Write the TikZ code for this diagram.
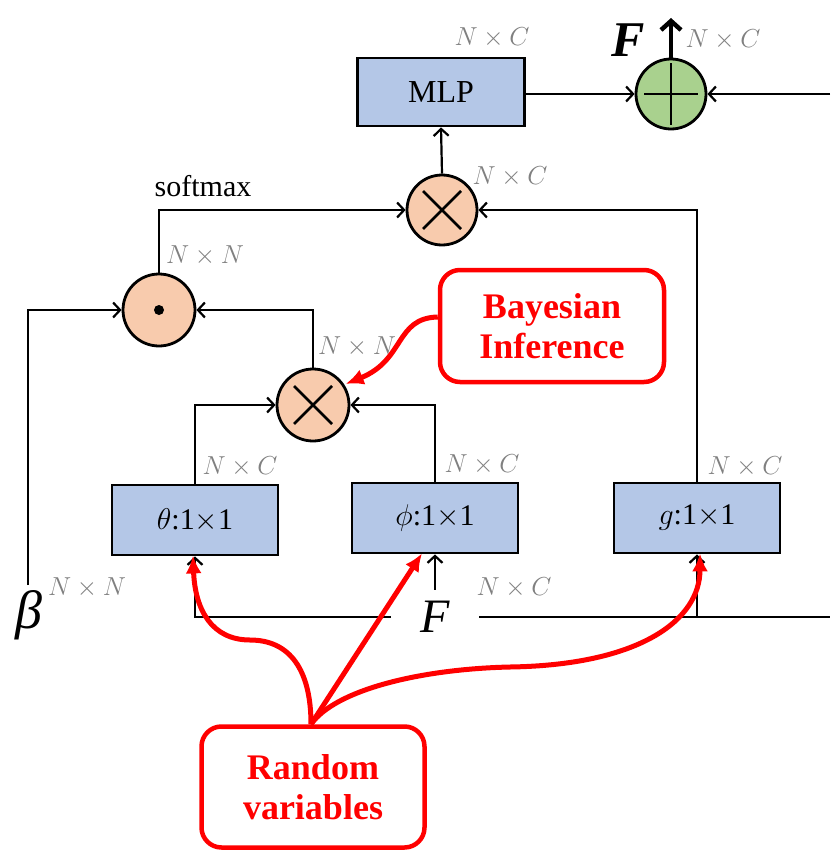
\RequirePackage{fix-cm}
\documentclass[tikz,border=0pt]{standalone}
\usepackage{fontspec}
\setmainfont{Liberation Serif}
\usetikzlibrary{arrows.meta}

\definecolor{boxblue}{HTML}{B4C7E7}
\definecolor{opOrange}{HTML}{F8CBAD}
\definecolor{opGreen}{HTML}{A9D18E}
\definecolor{dimGray}{HTML}{808080}
\definecolor{noteRed}{HTML}{FF0000}

\newcommand{\dimNC}{$N\times C$}
\newcommand{\dimNN}{$N\times N$}

\tikzset{
  blockbox/.style={draw=black, line width=2.8pt, fill=boxblue, minimum width=166pt, minimum height=70pt, inner sep=0pt, font=\fontsize{30}{34}\selectfont},
  opcircle/.style={circle, draw=black, line width=2.8pt, fill=opOrange, minimum size=70pt, inner sep=0pt},
  conn/.style={line width=2.2pt, -{Straight Barb[length=7pt,width=15pt,line width=2.2pt]}},
  plainline/.style={line width=2.2pt},
  dimlabel/.style={text=dimGray, font=\fontsize{26}{30}\selectfont, inner sep=0pt},
  notebox/.style={draw=noteRed, line width=4.5pt, rounded corners=20pt, fill=white, text=noteRed, align=center, font=\fontsize{36}{40}\selectfont\bfseries},
  notearrow/.style={draw=noteRed, line width=5pt, -{Latex[length=18pt,width=16pt]}},
}

\begin{document}
\begin{tikzpicture}[x=1pt, y=-1pt]
  \useasboundingbox (0,0) rectangle (830,856);

  % operator blocks
  \node[blockbox, minimum width=167pt, minimum height=68pt, font=\fontsize{32}{36}\selectfont] (mlp) at (441,92) {MLP};
  \node[blockbox] (theta) at (195,520) {$\theta$:1$\times$1};
  \node[blockbox] (phi)   at (435,518) {$\phi$:1$\times$1};
  \node[blockbox] (g)     at (697,518) {$g$:1$\times$1};

  % element-wise / matrix operators
  \node[opcircle, fill=opGreen] (add) at (671,94) {};
  \node[opcircle] (mulTop) at (442,210) {};
  \node[opcircle, minimum size=72pt] (hada) at (159,310) {};
  \node[opcircle, minimum size=72pt] (mulMid) at (313,405) {};

  % operator symbols
  \draw[line width=2.8pt] ([xshift=-27pt]add.center) -- ([xshift=27pt]add.center)
                          ([yshift=-31pt]add.center) -- ([yshift=31pt]add.center);
  \foreach \n in {mulTop, mulMid}{
    \draw[line width=2.8pt] ([shift={(-19pt,-19pt)}]\n.center) -- ([shift={(19pt,19pt)}]\n.center)
                            ([shift={(-19pt,19pt)}]\n.center) -- ([shift={(19pt,-19pt)}]\n.center);
  }
  \fill (hada.center) circle (5pt);

  % inputs and free ends
  \node[font=\fontsize{48}{52}\selectfont\itshape, minimum width=88pt, minimum height=54pt, inner sep=0pt] (Fin) at (435,617) {F};
  \node[font=\fontsize{54}{58}\selectfont\itshape, inner sep=0pt] (beta) at (29,615) {β};
  \node[font=\fontsize{50}{54}\selectfont\bfseries\itshape, inner sep=0pt] (Fout) at (628,40) {F};
  \coordinate (betaTop) at (28,585);
  \coordinate (resIn) at (830,94);
  \coordinate (resOut) at (830,617);
  \coordinate (outTip) at (671,18);

  % data flow
  \draw[conn] (mulTop.north) -- (mlp.south);
  \draw[conn] (mlp.east |- add.west) -- (add.west);
  \draw[conn] (resIn) -- (add.east);
  \draw[line width=4.5pt, -{Straight Barb[length=9pt,width=20pt,line width=4.5pt]}] (add.north) -- (outTip);
  \draw[conn] (hada.north) |- (mulTop.west);
  \draw[conn] (g.north) |- (mulTop.east);
  \draw[conn] (mulMid.north) |- (hada.east);
  \draw[conn] (betaTop) |- (hada.west);
  \draw[conn] (theta.north) |- (mulMid.west);
  \draw[conn] (phi.north) |- (mulMid.east);
  \draw[conn] (Fin.west) -| (theta.south);
  \draw[plainline] (Fin.east) -- (resOut);
  \draw[conn] (g.south |- Fin.east) -- (g.south);
  \draw[conn] (Fin.north) -- (phi.south);

  % labels
  \node at (203,186) [font=\fontsize{30}{34}\selectfont, inner sep=0pt] (softmaxLbl) {softmax};
  \node[dimlabel] (lblMlp)   at (492,38)  {\dimNC};
  \node[dimlabel] (lblOut)   at (723,40)  {\dimNC};
  \node[dimlabel] (lblTop)   at (510,177) {\dimNC};
  \node[dimlabel] (lblHada)  at (205,256) {\dimNN};
  \node[dimlabel] (lblMid)   at (357,347) {\dimNN};
  \node[dimlabel] (lblTheta) at (240,467) {\dimNC};
  \node[dimlabel] (lblPhi)   at (482,465) {\dimNC};
  \node[dimlabel] (lblG)     at (745,467) {\dimNC};
  \node[dimlabel] (lblF)     at (514,588) {\dimNC};
  \node[dimlabel] (lblBeta)  at (87,588)  {\dimNN};

  % annotations
  \node[notebox, minimum width=224pt, minimum height=112pt] (bayes) at (552,326) {Bayesian\\Inference};
  \node[notebox, minimum width=223pt, minimum height=121pt] (rv) at (313,787) {Random\\variables};

  \draw[notearrow] ([yshift=9pt]bayes.west) .. controls (395,318) and (405,360) .. ([shift={(4pt,-3pt)}]mulMid.40);
  \draw[notearrow] ([xshift=-2pt]rv.north) .. controls (311,670) and (290,640) .. (250,640)
                   .. controls (212,640) and (195,610) .. ([xshift=-2pt,yshift=1pt]theta.south);
  \draw[notearrow] ([xshift=-2pt]rv.north) -- ([xshift=-13pt,yshift=1pt]phi.south);
  \draw[notearrow] ([xshift=-2pt]rv.north) .. controls (335,690) and (420,669) .. (510,667)
                   .. controls (640,665) and (700,620) .. ([xshift=3pt,yshift=1pt]g.south);
\end{tikzpicture}
\end{document}
